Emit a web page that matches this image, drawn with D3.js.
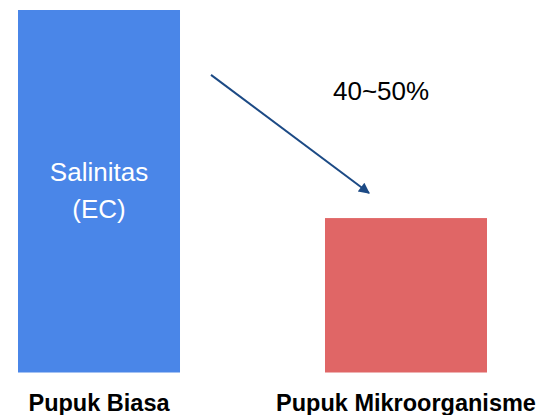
<!DOCTYPE html>
<html>
<head>
<meta charset="utf-8">
<script src="https://cdn.jsdelivr.net/npm/d3@7"></script>
<style>
  body { margin: 0; background: #fff; }
  text { font-family: Arial, "Liberation Sans", sans-serif; }
</style>
</head>
<body>
<div id="chart"></div>
<script>
var svgWidth = 558;
var svgHeight = 415;

// data
var categories = ["Pupuk Biasa", "Pupuk Mikroorganisme"];
var values = [100, 42.6];
var barColors = ["#4a86e8", "#e06666"];
var barLabel = ["Salinitas", "(EC)"];
var changeLabel = "40~50%";

var svg = d3.select("#chart")
  .append("svg")
    .attr("width", svgWidth)
    .attr("height", svgHeight);

// scales
var xBandScale = d3.scaleBand()
  .domain(categories)
  .range([18, 487])
  .paddingInner(0.4723);

var yLinearScale = d3.scaleLinear()
  .domain([0, 100])
  .range([372.5, 10]);

// bars
svg.selectAll("rect.bar")
  .data(values)
  .enter()
  .append("rect")
  .attr("class", "bar")
  .attr("x", (d, i) => xBandScale(categories[i]))
  .attr("y", d => yLinearScale(d))
  .attr("width", xBandScale.bandwidth())
  .attr("height", d => yLinearScale(0) - yLinearScale(d))
  .attr("fill", (d, i) => barColors[i]);

// category labels under the bars
svg.selectAll("text.cat")
  .data(categories)
  .enter()
  .append("text")
  .attr("class", "cat")
  .attr("x", d => xBandScale(d) + xBandScale.bandwidth() / 2)
  .attr("y", 410.5)
  .attr("text-anchor", "middle")
  .attr("font-weight", "bold")
  .attr("font-size", "23.5px")
  .attr("fill", "#000")
  .text(d => d);

// label inside the first bar
var cx0 = xBandScale(categories[0]) + xBandScale.bandwidth() / 2;
svg.selectAll("text.inbar")
  .data(barLabel)
  .enter()
  .append("text")
  .attr("class", "inbar")
  .attr("x", cx0)
  .attr("y", (d, i) => 181 + i * 37)
  .attr("text-anchor", "middle")
  .attr("font-size", "26px")
  .attr("fill", "#fff")
  .text(d => d);

// arrow showing the drop
svg.append("defs").append("marker")
  .attr("id", "head")
  .attr("viewBox", "0 0 10 10")
  .attr("refX", 9)
  .attr("refY", 5)
  .attr("markerWidth", 6.5)
  .attr("markerHeight", 5.5)
  .attr("orient", "auto")
  .append("path")
  .attr("d", "M0,0L10,5L0,10Z")
  .attr("fill", "#1c4a85");

svg.append("line")
  .attr("x1", xBandScale(categories[0]) + xBandScale.bandwidth() + 31)
  .attr("y1", yLinearScale(82.1))
  .attr("x2", xBandScale(categories[1]) + 44)
  .attr("y2", yLinearScale(49.5))
  .attr("stroke", "#1c4a85")
  .attr("stroke-width", 2)
  .attr("marker-end", "url(#head)");

svg.append("text")
  .attr("x", 333)
  .attr("y", 99.5)
  .attr("font-size", "26px")
  .attr("fill", "#000")
  .text(changeLabel);
</script>
</body>
</html>
